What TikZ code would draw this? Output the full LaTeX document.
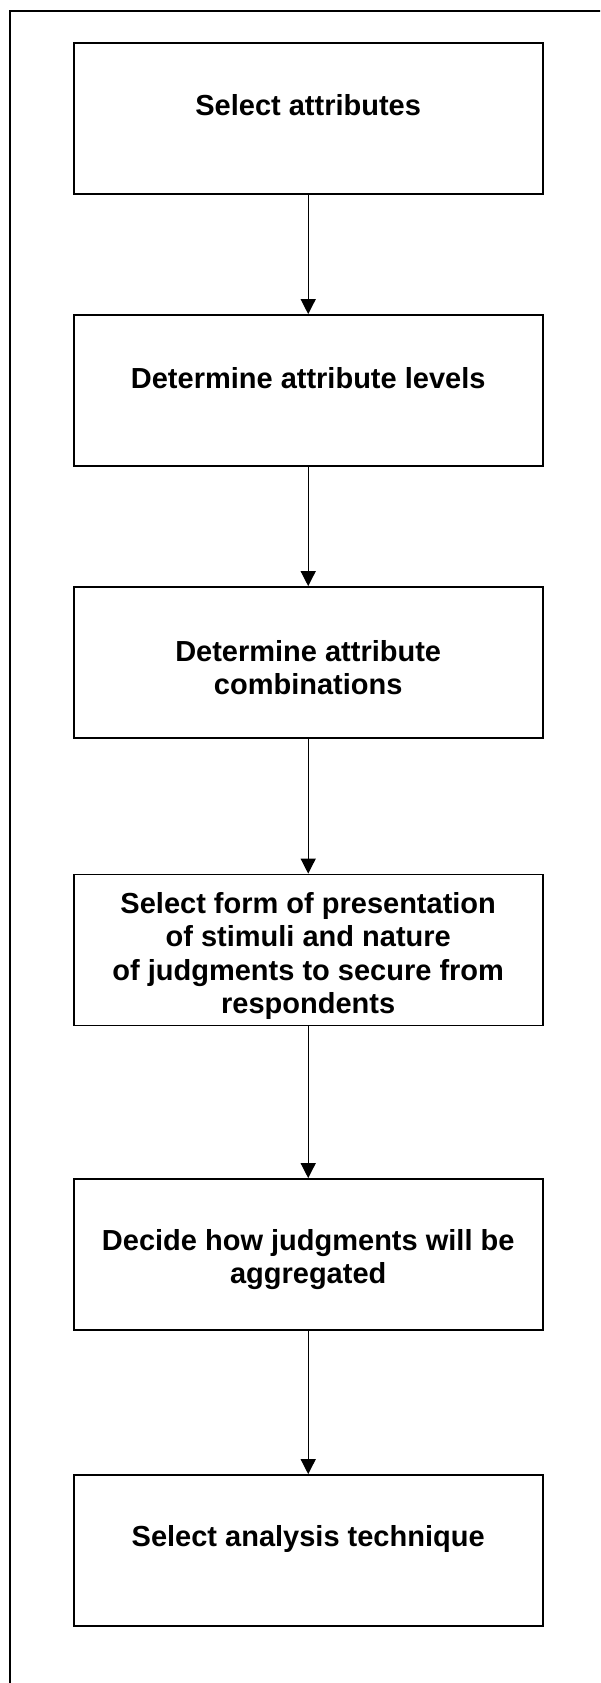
\documentclass[tikz,border=0pt]{standalone}
\usepackage{fontspec}
\setmainfont{Liberation Sans}
\usetikzlibrary{arrows.meta}
\newcommand\firststrut{\rule{0pt}{25pt}}
\newcommand\looselines{\bfseries\fontsize{29}{33.5}\selectfont\lineskiplimit=-100pt\relax}
\begin{document}
\begin{tikzpicture}[x=1pt,y=-1pt,
  stepbox/.style={draw=black, line width=1.8pt, minimum width=469pt, minimum height=151pt, inner sep=0pt},
  lbl/.style={anchor=north, inner sep=0pt, align=center, font=\looselines},
  conn/.style={draw=black, line width=1.3pt, -{Triangle[length=15pt,width=15pt]}},
  frame/.style={draw=black, line width=2pt}]
\useasboundingbox (0,0) rectangle (600,1683);
\clip (0,0) rectangle (600,1683);
% outer frame (only left and top edges visible)
\coordinate (fbl) at (10.3,1700);
\coordinate (ftl) at (10.3,11);
\coordinate (ftr) at (620,11);
\draw[frame] (fbl) -- (ftl) -- (ftr);
% boxes
\node[stepbox] (b1) at (308.2,118.5) {};
\node[stepbox] (b2) at (308.2,390.5) {};
\node[stepbox] (b3) at (308.2,662.5) {};
\node[stepbox] (b4) at (308.2,950) {};
\node[stepbox] (b5) at (308.2,1254.5) {};
\node[stepbox] (b6) at (308.2,1550.5) {};
% labels
\node[lbl] (t1) at (308.2,90) {\firststrut Select attributes};
\node[lbl] (t2) at (308.2,363) {\firststrut Determine attribute levels};
\node[lbl] (t3) at (308.2,636) {\firststrut Determine attribute\\combinations};
\node[lbl] (t4) at (308.2,888) {\firststrut Select form of presentation\\of stimuli and nature\\of judgments to secure from\\respondents};
\node[lbl] (t5) at (308.2,1225) {\firststrut Decide how judgments will be\\aggregated};
\node[lbl] (t6) at (308.2,1521) {\firststrut Select analysis technique};
% connectors
\draw[conn] (b1.south) -- (b2.north);
\draw[conn] (b2.south) -- (b3.north);
\draw[conn] (b3.south) -- (b4.north);
\draw[conn] (b4.south) -- (b5.north);
\draw[conn] (b5.south) -- (b6.north);
\end{tikzpicture}
\end{document}
